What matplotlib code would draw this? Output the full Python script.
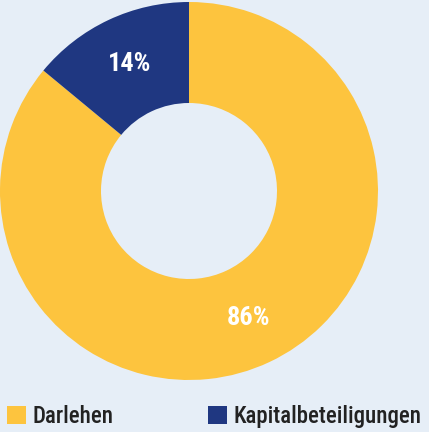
import matplotlib
matplotlib.use("Agg")
import matplotlib.pyplot as plt
from matplotlib import font_manager

categories = ["Darlehen", "Kapitalbeteiligungen"]
values = [86, 14]
colors = ["#fdc43e", "#1f3781"]
bg = "#e6eef7"

names = {f.name for f in font_manager.fontManager.ttflist}
fam = [n for n in ["Roboto Condensed", "Liberation Sans Narrow", "Open Sans Condensed"] if n in names] + ["DejaVu Sans"]
plt.rcParams["font.family"] = fam

W, H = 429, 432
fig = plt.figure(figsize=(W / 100, H / 100), dpi=100, facecolor=bg)
ax = fig.add_axes([0, 0, 1, 1])
ax.set_facecolor(bg)

cx, cy, R = 189, H - 191, 189
wedges, texts, autotexts = ax.pie(
    values, colors=colors, startangle=90, counterclock=False,
    center=(cx, cy), radius=R, frame=True,
    wedgeprops=dict(width=101, linewidth=0),
    autopct="%d%%", pctdistance=0.74,
    textprops=dict(color="white", fontsize=19, fontweight="bold"))
ax.set_xlim(0, W)
ax.set_ylim(0, H)
ax.set_aspect("equal")
ax.axis("off")

common = dict(loc="lower left", bbox_transform=ax.transData,
              frameon=False, borderpad=0, borderaxespad=0,
              prop=dict(size=16.5, weight="medium"),
              handlelength=0.83, handleheight=0.83,
              handletextpad=0.3, labelcolor="#222222")
leg1 = ax.legend([wedges[0]], [categories[0]], bbox_to_anchor=(7, 4), **common)
ax.add_artist(leg1)
leg2 = ax.legend([wedges[1]], [categories[1]], bbox_to_anchor=(208, 4), **common)

fig.savefig("out.png", dpi=100, facecolor=bg)
